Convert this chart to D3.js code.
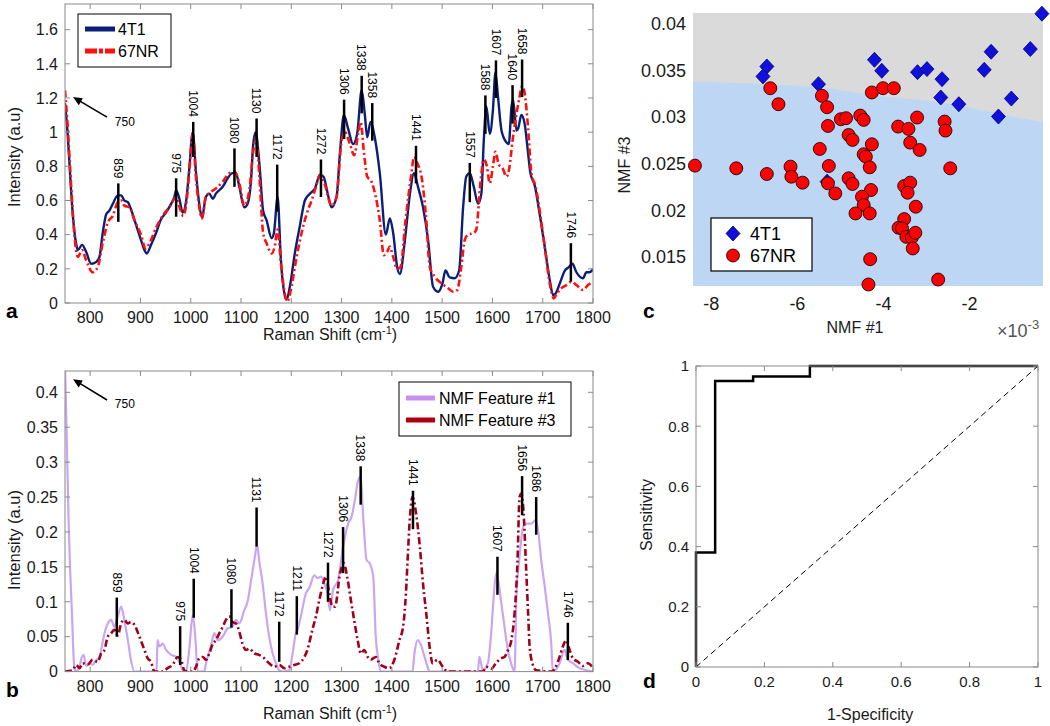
<!DOCTYPE html>
<html><head><meta charset="utf-8">
<script src="https://cdn.jsdelivr.net/npm/d3@7"></script>
<style>body{margin:0;background:#fff}svg{display:block;font-family:"Liberation Sans",Arial,sans-serif}</style>
</head><body>
<svg id="c" width="1050" height="726"></svg>
<script>
// ---------- DATA ----------
// Panel a: mean spectra
const wn4T1 = [750,755,760,766,772,775.5,784,792,802,812,818.5,825,832,838,845,855,861.6,868,875,881,891,901,908,912.6,921,931,941,951,961,967.5,971,977.5,984,991,997,1004,1010.6,1017,1022.5,1030,1037,1044,1050,1063.6,1073.5,1083,1090,1096.7,1106.6,1113,1120,1124,1129,1137,1144,1150.8,1160.8,1165.5,1172.8,1179.4,1187.4,1190.7,1197.4,1207,1217,1227,1237,1247,1257,1264,1274,1280,1290,1296.7,1304.6,1313,1323,1331,1340,1346,1351,1357.6,1366,1376,1388,1396,1402.6,1410.6,1416,1426,1436,1444,1452,1462,1472,1482,1492,1500.7,1506.6,1515,1525,1533.8,1541.7,1548,1555,1563,1571.5,1578,1582.8,1588,1594.7,1601,1606,1611,1618,1628,1632.5,1638,1641,1648,1651,1657.6,1664,1671,1675.5,1684,1694,1704,1714,1720.5,1726,1734,1744,1752,1759,1767,1780,1787,1793,1800];
const int4T1 = [1.17,1.0,0.76,0.50,0.35,0.31,0.34,0.30,0.23,0.24,0.27,0.41,0.52,0.54,0.58,0.63,0.63,0.60,0.59,0.55,0.46,0.37,0.31,0.29,0.34,0.41,0.49,0.53,0.58,0.62,0.66,0.61,0.53,0.60,0.78,1.00,0.76,0.58,0.50,0.62,0.64,0.61,0.64,0.68,0.73,0.76,0.76,0.68,0.56,0.58,0.72,0.92,1.00,0.80,0.54,0.485,0.38,0.41,0.62,0.25,0.04,0.02,0.10,0.29,0.45,0.60,0.64,0.67,0.75,0.74,0.62,0.56,0.62,0.875,1.10,1.02,0.93,0.99,1.245,1.11,0.97,1.06,0.97,0.76,0.40,0.495,0.41,0.21,0.17,0.37,0.64,0.76,0.68,0.56,0.37,0.095,0.066,0.115,0.19,0.15,0.145,0.19,0.56,0.74,0.76,0.68,0.58,0.64,0.95,1.15,0.99,1.13,1.35,1.21,1.01,0.94,0.93,1.15,1.19,1.01,1.02,1.10,1.05,0.875,0.76,0.69,0.52,0.33,0.135,0.047,0.057,0.115,0.19,0.21,0.23,0.18,0.145,0.18,0.18,0.197];
const wn67NR = [750,755,760,765,769,775.5,784,792,805,815,825,835,845,855,862,868,878,888,901,910,918,931,944,957.6,971,979,985,992,998,1004,1010,1017,1022.5,1030,1040,1050,1063.6,1077,1087,1096.7,1106.6,1116.6,1124,1130,1137,1144,1150.8,1160.8,1167,1172.8,1179.4,1187,1192,1200.7,1210.6,1220.5,1230.4,1240.4,1250,1257,1267,1280,1290,1300,1306.6,1316.6,1325,1333,1338,1344,1351,1359.6,1368,1376,1384,1390.7,1396,1402.6,1410.6,1417,1428,1439,1444,1451,1459,1467.5,1475.5,1485,1498.7,1512,1522,1530,1538,1545,1551.6,1563,1568,1576,1583,1589,1594.7,1601,1606,1612.6,1620,1628,1633,1640,1648,1653,1659,1664,1671,1677.5,1686,1694,1704,1714,1722,1728.5,1737,1747,1757,1767,1780,1790,1800];
const int67NR = [1.245,1.05,0.80,0.55,0.39,0.27,0.31,0.25,0.18,0.21,0.35,0.47,0.51,0.59,0.60,0.57,0.56,0.485,0.40,0.32,0.35,0.44,0.51,0.56,0.62,0.55,0.51,0.60,0.80,0.99,0.75,0.56,0.495,0.62,0.65,0.67,0.71,0.76,0.77,0.70,0.57,0.66,0.88,0.97,0.72,0.41,0.35,0.29,0.33,0.43,0.23,0.057,0.01,0.10,0.27,0.41,0.52,0.60,0.69,0.75,0.69,0.57,0.62,0.95,1.00,0.93,0.865,0.99,1.06,0.895,0.74,0.71,0.62,0.485,0.28,0.30,0.33,0.27,0.20,0.21,0.505,0.76,0.855,0.815,0.74,0.52,0.21,0.155,0.115,0.086,0.066,0.076,0.21,0.37,0.40,0.41,0.43,0.70,0.84,0.80,0.70,0.80,0.885,0.81,0.79,0.74,0.78,0.95,1.11,1.19,1.27,1.23,1.02,0.76,0.68,0.54,0.33,0.115,0.027,0.057,0.086,0.105,0.125,0.105,0.076,0.105,0.125];
const peaksA = ["859","975","1004","1080","1130","1172","1272","1306","1338","1358","1441","1557","1588","1607","1640","1658","1746"];
const peaksAx = [856,971,1005,1087,1131,1172,1259,1305,1340,1361,1448,1555,1586,1607,1640,1659,1756];
const peaksAtop = [0.70,0.73,1.06,0.905,1.08,0.81,0.84,1.19,1.33,1.17,0.92,0.82,1.215,1.42,1.275,1.425,0.35];
const peaksAbot = [0.475,0.505,0.855,0.68,0.855,0.535,0.62,0.96,1.11,0.95,0.70,0.59,0.99,1.20,1.05,1.205,0.125];
const ticksA_x = [800,900,1000,1100,1200,1300,1400,1500,1600,1700,1800];
const ticksA_y = [0,0.2,0.4,0.6,0.8,1,1.2,1.4,1.6];

// Panel b: NMF features
const wnNMF1 = [750,753,757,760,764,768,771,778,783,787,792,798,805,812,818.5,828.5,835,842,848,855,861.6,868,875,881,888,932,934,937.7,944,951,961,971,977.5,984,990.7,997,1004,1009,1014,1027,1030.5,1040,1047,1053.6,1063.6,1073.5,1083,1090,1096.7,1106.6,1113,1120,1127.7,1132,1136,1143,1149.7,1156,1163,1169.5,1176,1183,1196,1202.6,1209,1212.6,1219,1229,1236,1245.7,1252,1259,1265.6,1272,1277,1283,1293,1303,1313,1320,1326.5,1333,1338,1343,1349.7,1356,1363,1368,1373,1378,1441,1445,1451,1458,1465,1471,1475,1571,1574,1581,1591,1597.5,1602,1607.4,1612.7,1617,1624,1630.7,1637,1644,1647.7,1654,1661,1667.5,1677.5,1686,1690.7,1697,1704,1710.6,1717,1720,1733.6,1743.6,1750,1760,1773,1787,1800];
const intNMF1 = [0.44,0.35,0.22,0.15,0.08,0.01,0,0.005,0.02,0.024,0.008,0.012,0.01,0.016,0.021,0.055,0.069,0.074,0.064,0.079,0.093,0.074,0.045,0.017,0,0,0.045,0.036,0.04,0.031,0.024,0.021,0.014,0.002,0,0.031,0.081,0.05,0,0,0.012,0.036,0.055,0.045,0.05,0.062,0.064,0.074,0.069,0.088,0.10,0.13,0.165,0.182,0.16,0.126,0.083,0.05,0.026,0.012,0.002,0,0.002,0.026,0.055,0.06,0.079,0.112,0.12,0.138,0.134,0.136,0.126,0.112,0.088,0.117,0.131,0.179,0.212,0.222,0.246,0.274,0.279,0.222,0.16,0.155,0.136,0.05,0.017,0,0,0.026,0.045,0.038,0.021,0.007,0,0,0.021,0.002,0.012,0.055,0.102,0.141,0.126,0.102,0.064,0.031,0.012,0,0.107,0.165,0.207,0.212,0.212,0.217,0.203,0.16,0.122,0.083,0.04,0,0.012,0.031,0.017,0.012,0.005,0.002,0];
const wnNMF3 = [750,765.6,772,779,785,795,805,815,822,828.5,835,842,848,855,861.6,868,875,881,888,898,908,914.6,921,928,944,954,964,974,981,987,994,1004,1010.6,1017,1024,1030.5,1037,1044,1050,1057,1063.6,1070,1077,1083,1090,1096.7,1103,1110,1116.6,1126.5,1136,1146,1156,1166,1176,1186,1196,1206,1216,1226,1232,1242,1249,1255.6,1262,1269,1275.5,1282,1287,1297,1304.6,1311,1318.6,1325,1332,1338.5,1345,1352,1358,1368,1375,1385,1395,1405,1415,1422.5,1428,1432,1436,1441,1449,1455.6,1462,1469,1475.5,1481,1491,1501,1511,1581,1587.5,1597.5,1607,1617,1624,1631,1637.7,1644,1649.7,1654,1657.6,1662,1666,1671,1674,1680.5,1687,1717,1723.6,1733.6,1740,1747,1753.5,1760,1770,1780,1790,1800];
const intNMF3 = [0,0.002,0.0095,0.005,0.012,0.01,0.017,0.014,0.026,0.031,0.05,0.055,0.06,0.052,0.069,0.074,0.069,0.071,0.067,0.05,0.031,0.019,0.014,0,0,0.005,0.0095,0.021,0.017,0.002,0,0,0.007,0.019,0.021,0.017,0.026,0.04,0.045,0.055,0.064,0.074,0.079,0.071,0.069,0.057,0.04,0.031,0.033,0.026,0.024,0.019,0.012,0.007,0.0095,0.005,0.007,0.0095,0.012,0.021,0.031,0.06,0.079,0.102,0.122,0.136,0.112,0.093,0.093,0.141,0.155,0.136,0.102,0.074,0.045,0.026,0.031,0.021,0.017,0.021,0.012,0.007,0.005,0.017,0.045,0.065,0.112,0.17,0.222,0.25,0.222,0.179,0.126,0.079,0.033,0.012,0.017,0.007,0,0,0.007,0.004,0.012,0.019,0.021,0.031,0.045,0.083,0.155,0.25,0.255,0.227,0.165,0.083,0.036,0.0095,0.002,0,0.004,0.021,0.036,0.045,0.031,0.019,0.014,0.008,0.012,0.005];
const peaksB = ["859","975","1004","1080","1131","1172","1211","1272","1306","1338","1441","1607","1656","1686","1746"];
const peaksBx = [853,979,1006,1081,1131,1176,1211,1273,1303,1338,1442,1610,1659,1687,1750];
const peaksBtop = [0.106,0.065,0.133,0.118,0.235,0.0715,0.108,0.156,0.207,0.294,0.259,0.1645,0.28,0.25,0.07];
const peaksBbot = [0.05,0.0095,0.077,0.063,0.179,0.014,0.053,0.1,0.141,0.239,0.204,0.11,0.224,0.196,0.0165];
const ticksB_y = [0,0.05,0.1,0.15,0.2,0.25,0.3,0.35,0.4];

// Panel c: NMF scores (NMF #1 in units of 1e-3)
const t4T1_x = [-6.71,-6.80,-5.51,-4.21,-4.04,-3.21,-2.99,-2.64,-2.67,-2.25,-1.66,-1.50,-1.03,-1.33,-0.59,-0.32,-5.31];
const t4T1_y = [0.03541,0.03434,0.03351,0.03613,0.03495,0.03480,0.03513,0.03405,0.03208,0.03136,0.03505,0.03699,0.03197,0.03004,0.03728,0.04108,0.02305];
const nr67_x = [-6.63,-6.44,-5.43,-5.31,-5.29,-4.99,-4.87,-4.54,-4.46,-4.27,-4.01,-3.76,-3.22,-3.66,-3.42,-2.58,-2.56,-4.81,-4.72,-4.27,-3.38,-3.16,-5.48,-4.46,-4.41,-4.32,-5.27,-8.38,-7.42,-6.71,-6.16,-6.14,-5.88,-5.29,-5.12,-4.81,-4.72,-4.29,-4.50,-4.46,-4.65,-4.32,-3.52,-3.38,-3.44,-3.25,-2.45,-3.52,-3.65,-3.57,-3.47,-3.34,-3.26,-3.32,-4.31,-4.35,-2.73];
const nr67_y = [0.03308,0.03136,0.03226,0.03104,0.02903,0.02975,0.02986,0.03014,0.02968,0.03262,0.03308,0.03308,0.02993,0.02896,0.02871,0.02950,0.02853,0.02806,0.02753,0.02706,0.02724,0.02645,0.02656,0.02599,0.02573,0.02459,0.02473,0.02477,0.02448,0.02387,0.02466,0.02358,0.02294,0.02287,0.02179,0.02341,0.02280,0.02215,0.02143,0.02054,0.01964,0.01964,0.02258,0.02294,0.02186,0.02036,0.02448,0.01903,0.01810,0.01803,0.01713,0.01706,0.01756,0.01588,0.01473,0.01201,0.01254];
const boundary_x = [-8.425,-7.0,-5.51,-4.01,-2.84,-2.06,-1.29,-0.295];
const boundary_y = [0.0338,0.03355,0.03319,0.03219,0.03165,0.03104,0.03029,0.02943];
const ticksC_x = [-8,-6,-4,-2];
const ticksC_y = [0.015,0.02,0.025,0.03,0.035,0.04];

// Panel d: ROC
const rocFPR = [0,0,0.056,0.056,0.167,0.167,0.333,0.333,1];
const rocTPR = [0,0.38,0.38,0.95,0.95,0.965,0.965,1,1];
const ticksD = [0,0.2,0.4,0.6,0.8,1];

// ---------- DRAW ----------
const svg = d3.select("#c");
const axisCol = "#8a8a8a", txtCol = "#1a1a1a";
const fmt = v => String(+v.toFixed(4));

function box(g, x, y, xt, yt, opt){
  const [x0,x1] = x.range(), [y0,y1] = y.range();
  const tl = 5;
  g.append("rect").attr("x",x0).attr("y",y1).attr("width",x1-x0).attr("height",y0-y1)
   .attr("fill","none").attr("stroke",axisCol).attr("stroke-width",1);
  xt.forEach(t=>{
    const px = x(t);
    g.append("line").attr("x1",px).attr("x2",px).attr("y1",y0).attr("y2",y0-tl).attr("stroke",axisCol);
    g.append("line").attr("x1",px).attr("x2",px).attr("y1",y1).attr("y2",y1+tl).attr("stroke",axisCol);
    g.append("text").attr("x",px).attr("y",y0+opt.xlab).attr("text-anchor","middle")
     .attr("font-size",opt.fs).attr("fill",txtCol).text(fmt(t));
  });
  yt.forEach(t=>{
    const py = y(t);
    g.append("line").attr("x1",x0).attr("x2",x0+tl).attr("y1",py).attr("y2",py).attr("stroke",axisCol);
    g.append("line").attr("x1",x1).attr("x2",x1-tl).attr("y1",py).attr("y2",py).attr("stroke",axisCol);
    g.append("text").attr("x",x0-opt.ylab).attr("y",py).attr("dy","0.36em").attr("text-anchor","end")
     .attr("font-size",opt.fs).attr("fill",txtCol).text(fmt(t));
  });
}
function ramanTitle(g, cx, y){
  const t = g.append("text").attr("x",cx).attr("y",y).attr("text-anchor","middle")
    .attr("font-size",16).attr("fill",txtCol);
  t.append("tspan").text("Raman Shift (cm");
  t.append("tspan").attr("dy",-6).attr("font-size",11).text("-1");
  t.append("tspan").attr("dy",6).text(")");
}
function vtitle(g, x, cy, s, fs){
  g.append("text").attr("transform",`translate(${x},${cy}) rotate(-90)`).attr("text-anchor","middle")
   .attr("font-size",fs).attr("fill",txtCol).text(s);
}
function peakMarks(g, x, y, labs, px, top, bot){
  labs.forEach((l,i)=>{
    g.append("line").attr("x1",x(px[i])).attr("x2",x(px[i])).attr("y1",y(top[i])).attr("y2",y(bot[i]))
     .attr("stroke","#000").attr("stroke-width",2.5);
    g.append("text").attr("transform",`translate(${x(px[i])},${y(top[i])-5}) rotate(90)`)
     .attr("text-anchor","end").attr("dy","0.35em").attr("font-size",12).attr("fill","#000").text(l);
  });
}
function arrow(g, x, y, tailV, tailI, headV, headI, txtV, txtI){
  const hx=x(headV), hy=y(headI), tx=x(tailV), ty=y(tailI);
  const ang = Math.atan2(hy-ty, hx-tx), L=9, w=4;
  g.append("line").attr("x1",tx).attr("y1",ty).attr("x2",hx-Math.cos(ang)*6).attr("y2",hy-Math.sin(ang)*6)
   .attr("stroke","#000").attr("stroke-width",1.6);
  const bx = hx-Math.cos(ang)*L, by = hy-Math.sin(ang)*L;
  g.append("path").attr("d",`M${hx},${hy}L${bx-Math.sin(ang)*w},${by+Math.cos(ang)*w}L${bx+Math.sin(ang)*w},${by-Math.cos(ang)*w}Z`)
   .attr("fill","#000");
  g.append("text").attr("x",x(txtV)).attr("y",y(txtI)).attr("font-size",12).attr("fill","#000").text("750");
}
function clip(id, x, y){
  const [x0,x1]=x.range(), [y0,y1]=y.range();
  svg.append("clipPath").attr("id",id).append("rect").attr("x",x0).attr("y",y1).attr("width",x1-x0).attr("height",y0-y1);
}

// ---- Panel a ----
const xA = d3.scaleLinear().domain([750,1800]).range([65,593]);
const yA = d3.scaleLinear().domain([0,1.75]).range([303,4]);
const gA = svg.append("g");
clip("clA", xA, yA);
const lineA = (xs,ys) => d3.line().x((d,i)=>xA(xs[i])).y((d,i)=>yA(ys[i])).curve(d3.curveMonotoneX)(xs);
gA.append("path").attr("d",lineA(wn4T1,int4T1)).attr("clip-path","url(#clA)")
  .attr("fill","none").attr("stroke","#0b1f78").attr("stroke-width",2.4);
gA.append("path").attr("d",lineA(wn67NR,int67NR)).attr("clip-path","url(#clA)")
  .attr("fill","none").attr("stroke","#ff1010").attr("stroke-width",2.6).attr("stroke-dasharray","7,3,2,3");
peakMarks(gA, xA, yA, peaksA, peaksAx, peaksAtop, peaksAbot);
arrow(gA, xA, yA, 833.5, 1.088, 766, 1.205, 849, 1.035);
box(gA, xA, yA, ticksA_x, ticksA_y, {fs:16, xlab:20, ylab:7});
ramanTitle(gA, 330, 340);
vtitle(gA, 20, 157, "Intensity (a.u)", 16.5);
gA.append("text").attr("x",6).attr("y",318).attr("font-size",21).attr("font-weight","bold").text("a");
// legend a
const lgA = gA.append("g");
lgA.append("rect").attr("x",78).attr("y",14).attr("width",93).attr("height",53).attr("fill","#fff").attr("stroke","#000").attr("stroke-width",1);
lgA.append("line").attr("x1",85).attr("x2",115).attr("y1",29).attr("y2",29).attr("stroke","#0b1f78").attr("stroke-width",5);
lgA.append("line").attr("x1",85).attr("x2",115).attr("y1",51).attr("y2",51).attr("stroke","#ff1010").attr("stroke-width",5).attr("stroke-dasharray","12,2,4,2");
lgA.append("text").attr("x",118).attr("y",29).attr("dy","0.36em").attr("font-size",16).text("4T1");
lgA.append("text").attr("x",118).attr("y",51).attr("dy","0.36em").attr("font-size",16).text("67NR");

// ---- Panel b ----
const xB = d3.scaleLinear().domain([750,1800]).range([65,593]);
const yB = d3.scaleLinear().domain([0,0.4305]).range([671.6,371]);
const gB = svg.append("g");
clip("clB", xB, yB);
const lineB = (xs,ys) => d3.line().x((d,i)=>xB(xs[i])).y((d,i)=>yB(ys[i])).curve(d3.curveMonotoneX)(xs);
gB.append("path").attr("d",lineB(wnNMF1,intNMF1)).attr("clip-path","url(#clB)")
  .attr("fill","none").attr("stroke","#caa6f2").attr("stroke-width",2.2);
gB.append("path").attr("d",lineB(wnNMF3,intNMF3)).attr("clip-path","url(#clB)")
  .attr("fill","none").attr("stroke","#a0001a").attr("stroke-width",2.6).attr("stroke-dasharray","7,3,2,3");
peakMarks(gB, xB, yB, peaksB, peaksBx, peaksBtop, peaksBbot);
arrow(gB, xB, yB, 833.5, 0.389, 766, 0.4186, 849, 0.3775);
box(gB, xB, yB, ticksA_x, ticksB_y, {fs:16, xlab:20, ylab:7});
ramanTitle(gB, 330, 719);
vtitle(gB, 20, 540, "Intensity (a.u)", 16.5);
gB.append("text").attr("x",6).attr("y",697).attr("font-size",21).attr("font-weight","bold").text("b");
const lgB = gB.append("g");
lgB.append("rect").attr("x",399).attr("y",382).attr("width",172).attr("height",54).attr("fill","#fff").attr("stroke","#000").attr("stroke-width",1);
lgB.append("line").attr("x1",406).attr("x2",435).attr("y1",398).attr("y2",398).attr("stroke","#c88ef0").attr("stroke-width",5);
lgB.append("line").attr("x1",406).attr("x2",435).attr("y1",420).attr("y2",420).attr("stroke","#b00010").attr("stroke-width",5);
lgB.append("text").attr("x",439).attr("y",398).attr("dy","0.36em").attr("font-size",16).text("NMF Feature #1");
lgB.append("text").attr("x",439).attr("y",420).attr("dy","0.36em").attr("font-size",16).text("NMF Feature #3");

// ---- Panel c ----
const xC = d3.scaleLinear().domain([-8.425,-0.295]).range([693,1043]);
const yC = d3.scaleLinear().domain([0.01185,0.04115]).range([286,13]);
const gC = svg.append("g");
gC.append("rect").attr("x",693).attr("y",13).attr("width",350).attr("height",273).attr("fill","#dadada");
const area = d3.area().x((d,i)=>xC(boundary_x[i])).y0(yC(0.01185)).y1((d,i)=>yC(boundary_y[i])).curve(d3.curveMonotoneX);
gC.append("path").attr("d",area(boundary_x)).attr("fill","#bcd6f3");
const diamond = "M0,-7.5L7,0L0,7.5L-7,0Z";
t4T1_x.forEach((v,i)=>{
  gC.append("path").attr("d",diamond).attr("transform",`translate(${xC(v)},${yC(t4T1_y[i])})`)
    .attr("fill","#1010dc").attr("stroke","#00006a").attr("stroke-width",0.8);
});
nr67_x.forEach((v,i)=>{
  gC.append("circle").attr("cx",xC(v)).attr("cy",yC(nr67_y[i])).attr("r",6.5)
    .attr("fill","#ff0000").attr("stroke","#000").attr("stroke-width",0.8);
});
ticksC_x.forEach(t=>gC.append("text").attr("x",xC(t)).attr("y",310).attr("text-anchor","middle").attr("font-size",18).attr("fill",txtCol).text(t));
ticksC_y.forEach(t=>gC.append("text").attr("x",686).attr("y",yC(t)).attr("dy","0.36em").attr("text-anchor","end").attr("font-size",18).attr("fill",txtCol).text(fmt(t)));
gC.append("text").attr("x",855).attr("y",333).attr("text-anchor","middle").attr("font-size",16).attr("fill",txtCol).text("NMF #1");
const ex = gC.append("text").attr("x",997).attr("y",337).attr("font-size",18).attr("fill","#555");
ex.append("tspan").text("\u00d710");
ex.append("tspan").attr("dy",-8).attr("font-size",13).text("-3");
vtitle(gC, 630, 165, "NMF #3", 16);
gC.append("text").attr("x",643).attr("y",318).attr("font-size",21).attr("font-weight","bold").text("c");
const lgC = gC.append("g");
lgC.append("rect").attr("x",711).attr("y",218).attr("width",101).attr("height",53).attr("fill","#fff").attr("stroke","#000").attr("stroke-width",1.2);
lgC.append("path").attr("d",diamond).attr("transform","translate(733,233.5)").attr("fill","#1010dc").attr("stroke","#00006a").attr("stroke-width",0.8);
lgC.append("circle").attr("cx",733).attr("cy",255.5).attr("r",6.5).attr("fill","#ff0000").attr("stroke","#000").attr("stroke-width",0.8);
lgC.append("text").attr("x",750).attr("y",233.5).attr("dy","0.36em").attr("font-size",18).text("4T1");
lgC.append("text").attr("x",750).attr("y",255.5).attr("dy","0.36em").attr("font-size",18).text("67NR");

// ---- Panel d ----
const xD = d3.scaleLinear().domain([0,1]).range([696,1038]);
const yD = d3.scaleLinear().domain([0,1]).range([667,366]);
const gD = svg.append("g");
gD.append("line").attr("x1",xD(0)).attr("y1",yD(0)).attr("x2",xD(1)).attr("y2",yD(1))
  .attr("stroke","#000").attr("stroke-width",1).attr("stroke-dasharray","6,4");
gD.append("path").attr("d",d3.line().x((d,i)=>xD(rocFPR[i])).y((d,i)=>yD(rocTPR[i]))(rocFPR))
  .attr("fill","none").attr("stroke","#000").attr("stroke-width",2.5);
box(gD, xD, yD, ticksD, ticksD, {fs:15, xlab:20, ylab:7});
gD.append("text").attr("x",870).attr("y",720).attr("text-anchor","middle").attr("font-size",16).attr("fill",txtCol).text("1-Specificity");
vtitle(gD, 652, 515, "Sensitivity", 16);
gD.append("text").attr("x",643).attr("y",688).attr("font-size",21).attr("font-weight","bold").text("d");
</script>
</body></html>
